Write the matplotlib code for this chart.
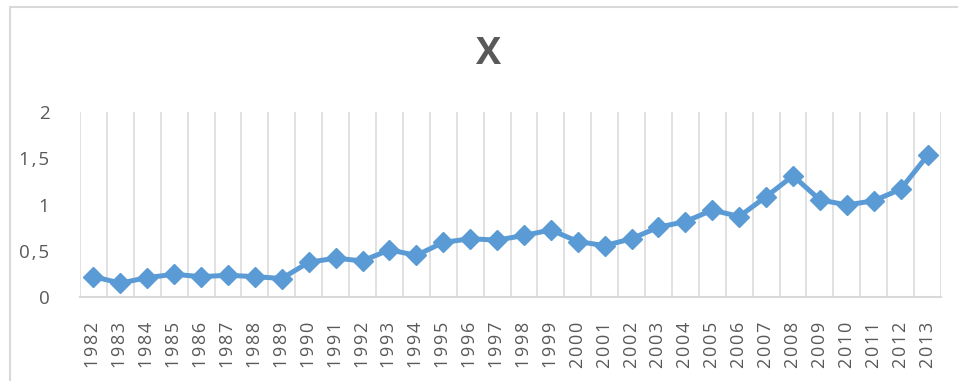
import matplotlib
matplotlib.use("Agg")
import matplotlib.pyplot as plt
from matplotlib.patches import Rectangle
from matplotlib.ticker import FuncFormatter

years = list(range(1982, 2014))
values = [0.22, 0.15, 0.21, 0.245, 0.22, 0.235, 0.22, 0.20, 0.375,
          0.42, 0.39, 0.51, 0.45, 0.59, 0.63, 0.615, 0.665, 0.725,
          0.60, 0.555, 0.63, 0.755, 0.815, 0.94, 0.87, 1.085, 1.31,
          1.05, 0.995, 1.04, 1.165, 1.53]
y_ticks = [0, 0.5, 1, 1.5, 2]
title = "X"

W, H = 958, 381
fig = plt.figure(figsize=(W / 100, H / 100), dpi=100)
plt.rcParams['font.family'] = ['Open Sans', 'DejaVu Sans']

HSP = "\u200a"  # hair space used as letter spacing in tick labels

# outer chart frame (left and top edges visible)
fig.patches.append(Rectangle((9.5 / W, -0.1), 1.2, (H - 6.5) / H + 0.1,
                             transform=fig.transFigure, fill=False,
                             edgecolor="#d9d9d9", linewidth=1.5))

ax = fig.add_axes([80 / W, (H - 297) / H, (941 - 80) / W, (297 - 112) / H])
x = list(range(len(years)))
ax.plot(x, values, color="#5b9bd5", linewidth=3.6, marker="D",
        markersize=10.5, markerfacecolor="#5b9bd5", markeredgecolor="#5b9bd5",
        solid_joinstyle="round", zorder=3)

ax.set_xlim(-0.5, len(years) - 0.5)
ax.set_ylim(0, 2)

# vertical gridlines between categories
for b in range(len(years) + 1):
    ax.axvline(b - 0.5, color="#d9d9d9", linewidth=1.1, zorder=1)

for s in ["top", "right", "left"]:
    ax.spines[s].set_visible(False)
ax.spines["bottom"].set_color("#d9d9d9")
ax.spines["bottom"].set_linewidth(1.5)

ax.set_xticks(x)
ax.set_xticklabels([HSP.join(str(y)) for y in years], rotation=90,
                   fontsize=13, color="#595959", va="top")
ax.tick_params(axis="x", length=0, pad=18)

ax.set_yticks(y_ticks)
ax.yaxis.set_major_formatter(FuncFormatter(
    lambda v, p: HSP.join((f"{v:g}").replace(".", ","))))
ax.tick_params(axis="y", length=0, pad=22, labelsize=13.5, labelcolor="#595959")

fig.text(488 / W, 1 - 54 / H, title, ha="center", va="center",
         fontsize=27, fontweight="bold", color="#595959")

fig.savefig("out.png", dpi=100)
